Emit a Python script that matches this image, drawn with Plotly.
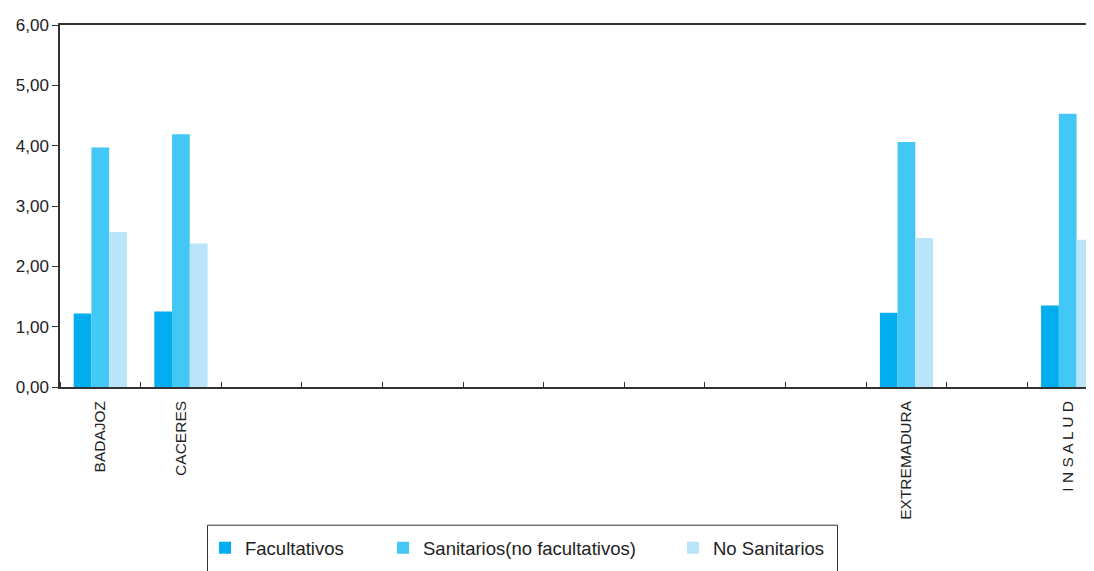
import plotly.graph_objects as go

categories = ["BADAJOZ", "CACERES", "", "", "", "", "", "", "", "", "EXTREMADURA", "", "I N S A L U D"]
facultativos = [1.22, 1.25, None, None, None, None, None, None, None, None, 1.23, None, 1.35]
sanitarios = [3.97, 4.19, None, None, None, None, None, None, None, None, 4.06, None, 4.53]
no_sanitarios = [2.57, 2.38, None, None, None, None, None, None, None, None, 2.47, None, 2.44]
series_names = ["Facultativos", "Sanitarios(no facultativos)", "No Sanitarios"]
colors = ["#00AEEF", "#43C8F5", "#B9E4F9"]
y_ticks = [0, 1, 2, 3, 4, 5, 6]

xs = list(range(len(categories)))
FONT = "Liberation Sans, Arial, Helvetica, sans-serif"

fig = go.Figure()
legend_ids = ["legend", "legend2", "legend3"]
for vals, name, col, lg in zip([facultativos, sanitarios, no_sanitarios], series_names, colors, legend_ids):
    fig.add_trace(go.Bar(x=xs, y=vals, name=name, marker=dict(color=col, line=dict(width=0)),
                         legend=lg))

# page has an 8px body margin; screen coords = figure coords + 8
OFF = 8
W, H = 1094, 571
plot_left, plot_right, plot_top, plot_bottom = 60, 1094, 19, 387  # screen px
L = plot_left - OFF
T = plot_top - OFF
R = W - (plot_right - OFF)
B = H - (plot_bottom - OFF)
pw, ph = W - L - R, H - T - B

def px_x(p):
    return (p - OFF - L) / pw

def px_y(p):
    return (H - B - (p - OFF)) / ph

leg_common = dict(orientation="h", bgcolor="rgba(0,0,0,0)", borderwidth=0,
                  font=dict(family=FONT, size=18.5, color="#222"), yanchor="middle", xanchor="left")
fig.update_layout(
    legend=dict(x=px_x(205), y=px_y(551), **leg_common),
    legend2=dict(x=px_x(383), y=px_y(551), **leg_common),
    legend3=dict(x=px_x(673), y=px_y(551), **leg_common),
)

fig.add_shape(type="rect", xref="paper", yref="paper",
              x0=px_x(207.5), x1=px_x(837.5), y0=px_y(600), y1=px_y(527.5),
              line=dict(color="#333", width=1), fillcolor="rgba(0,0,0,0)")

fig.update_layout(
    width=W, height=H,
    margin=dict(l=L, r=R, t=T, b=B, pad=0),
    paper_bgcolor="white", plot_bgcolor="white",
    barmode="group", bargap=0.34, bargroupgap=0,
    separators=",.",
    showlegend=True,
    font=dict(family=FONT, color="#222"),
    xaxis=dict(
        range=[-0.5, 12.5 - 14 / 80.6],
        tickvals=xs, ticktext=categories, tickangle=-90,
        ticks="", showgrid=False, zeroline=False,
        showline=True, linecolor="#333", linewidth=1.5, mirror=True,
        tickfont=dict(family=FONT, size=15.5, color="#222"),
        ticklabelstandoff=6,
        minor=dict(tick0=0.5, dtick=1, ticks="inside", ticklen=5, tickcolor="#333", showgrid=False),
    ),
    yaxis=dict(
        range=[0, 6], tickvals=y_ticks, tickformat=".2f",
        ticks="outside", ticklen=6, tickcolor="#333",
        showgrid=False, zeroline=False,
        showline=True, linecolor="#333", linewidth=1.5,
        tickfont=dict(family=FONT, size=17, color="#222"),
    ),
)

fig.write_html("out.html")
